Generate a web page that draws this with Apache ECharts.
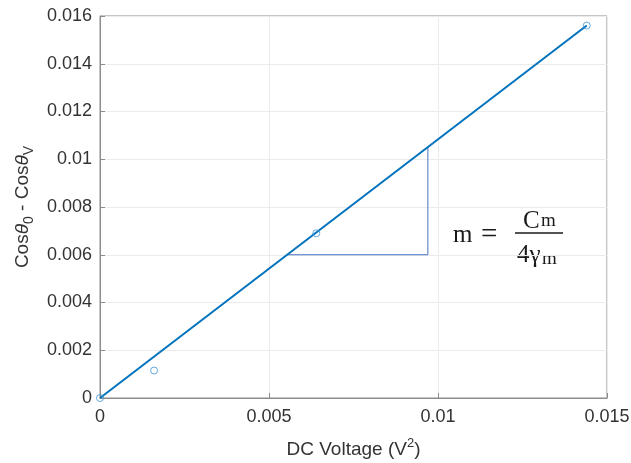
<!DOCTYPE html>
<html>
<head>
    <meta charset="utf-8">
    <title>ECharts</title>
    <script src="https://cdn.jsdelivr.net/npm/echarts@6/dist/echarts.min.js"></script>
    <style>
        body { margin: 0; background: #fff; }
    </style>
</head>
<body>
    <div id="main" style="width: 631px;height:463px;"></div>
    <script type="text/javascript">
        // measured points
        var voltSq = [0, 0.0016, 0.0064, 0.0144];
        var cosDiff = [0, 0.00115, 0.0069, 0.0156];
        // fitted line ends
        var fitX = [0, 0.0144];
        var fitY = [0, 0.0156];
        // slope triangle
        var triX = [0.00554, 0.0097, 0.0097];
        var triY = [0.006, 0.006, 0.01051];

        function pairs(xs, ys) {
            var out = [];
            for (var i = 0; i < xs.length; i++) out.push([xs[i], ys[i]]);
            return out;
        }

        var chart = echarts.init(document.getElementById('main'));
        var axisColor = '#8c8c8c';
        var textColor = '#333';
        var font = 'Liberation Sans';
        var serif = '"Liberation Serif"';
        var eqColor = '#1a1a1a';

        var option = {
            animation: false,
            backgroundColor: '#fff',
            grid: {
                left: 100, right: 24, top: 16, bottom: 65,
                outerBoundsMode: 'none',
                show: true, borderColor: axisColor, borderWidth: 1
            },
            xAxis: {
                type: 'value',
                min: 0, max: 0.015, interval: 0.005,
                name: 'DC Voltage (V{sup|2})',
                nameLocation: 'middle',
                nameGap: 39,
                nameTextStyle: {
                    fontFamily: font, fontSize: 19, color: textColor, lineHeight: 26,
                    rich: { sup: { fontFamily: font, fontSize: 13, color: textColor, verticalAlign: 'top', lineHeight: 13 } }
                },
                axisLine: { lineStyle: { color: axisColor } },
                axisTick: { inside: true, length: 5, lineStyle: { color: axisColor } },
                axisLabel: { fontFamily: font, fontSize: 18, color: textColor, margin: 10 },
                splitLine: { lineStyle: { color: '#ebebeb' } }
            },
            yAxis: {
                type: 'value',
                min: 0, max: 0.016, interval: 0.002,
                name: 'Cos{it|θ}{sub|0} - Cos{it|θ}{sub|V}',
                nameLocation: 'middle',
                nameGap: 60,
                nameTextStyle: {
                    fontFamily: font, fontSize: 19, color: textColor, lineHeight: 26,
                    rich: {
                        it: { fontFamily: font, fontSize: 19, color: textColor, fontStyle: 'italic', lineHeight: 26 },
                        sub: { fontFamily: font, fontSize: 14, color: textColor, verticalAlign: 'bottom', lineHeight: 14 }
                    }
                },
                axisLine: { show: true, lineStyle: { color: axisColor } },
                axisTick: { show: true, inside: true, length: 5, lineStyle: { color: axisColor } },
                axisLabel: { fontFamily: font, fontSize: 18, color: textColor, margin: 8 },
                splitLine: { lineStyle: { color: '#ebebeb' } }
            },
            series: [
                {
                    type: 'line',
                    data: pairs(triX, triY),
                    symbol: 'none',
                    lineStyle: { color: '#4472c4', width: 1 },
                    z: 2
                },
                {
                    type: 'line',
                    data: pairs(fitX, fitY),
                    symbol: 'none',
                    lineStyle: { color: '#0072bd', width: 2 },
                    z: 3
                },
                {
                    type: 'scatter',
                    data: pairs(voltSq, cosDiff),
                    symbol: 'circle',
                    symbolSize: 7,
                    itemStyle: { color: 'rgba(0,0,0,0)', borderColor: '#3d94d6', borderWidth: 1 },
                    z: 4
                }
            ],
            // slope formula m = Cm / 4γm
            graphic: [
                { type: 'text', left: 453, top: 223, style: { text: 'm', font: '25px ' + serif, fill: eqColor } },
                { type: 'text', left: 481, top: 221, style: { text: '=', font: '29px ' + serif, fill: eqColor } },
                { type: 'text', left: 523, top: 209, style: { text: 'C', font: '25px ' + serif, fill: eqColor } },
                { type: 'text', left: 541, top: 212, style: { text: 'm', font: '19px ' + serif, fill: eqColor } },
                { type: 'line', shape: { x1: 515, y1: 233, x2: 563, y2: 233 }, style: { stroke: eqColor, lineWidth: 1.5 } },
                { type: 'text', left: 517, top: 243, style: { text: '4γ', font: '25px ' + serif, fill: eqColor } },
                { type: 'text', left: 542, top: 250, style: { text: 'm', font: '19px ' + serif, fill: eqColor } }
            ]
        };
        chart.setOption(option);
    </script>
</body>
</html>
